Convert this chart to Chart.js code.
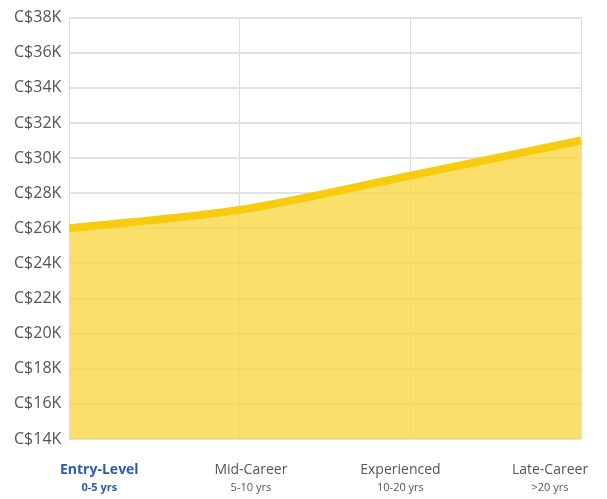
<!DOCTYPE html>
<html><head><meta charset="utf-8">
<script src="https://cdn.jsdelivr.net/npm/chart.js@4"></script>
<style>html,body{margin:0;padding:0;background:#fff}#w{width:607px;height:499px}</style>
</head><body><div id="w"><canvas id="c"></canvas></div>
<script>
const categories = ["Entry-Level","Mid-Career","Experienced","Late-Career"];
const subLabels = ["0-5 yrs","5-10 yrs","10-20 yrs",">20 yrs"];
const salaries = [26000, 27050, 29000, 31000];
const yMin = 14000, yMax = 38000, yStep = 2000;

const labelPlugin = {
  id: 'xlabels',
  afterDraw(chart) {
    const ctx = chart.ctx, xs = chart.scales.x, b = chart.chartArea.bottom;
    const shift = [30, 11, -10, -31];
    ctx.save(); ctx.textAlign = 'center'; ctx.textBaseline = 'alphabetic';
    categories.forEach((c, i) => {
      const x = xs.getPixelForValue(i) + shift[i];
      const first = i === 0;
      ctx.fillStyle = first ? '#2a5caa' : '#555';
      ctx.font = (first ? 'bold ' : '') + '14px "Open Sans"';
      ctx.fillText(c, x, b + 35);
      ctx.font = (first ? 'bold ' : '') + '11px "Open Sans"';
      ctx.fillText(subLabels[i], x, b + 52);
    });
    ctx.restore();
  }
};

new Chart(document.getElementById('c'), {
  type: 'line',
  data: { labels: categories, datasets: [{
    data: salaries, borderColor: '#f7cc0e', borderWidth: 8,
    backgroundColor: 'rgba(249,216,69,0.8)', fill: 'origin',
    tension: 0.3, pointRadius: 0
  }]},
  options: {
    responsive: true, maintainAspectRatio: false, animation: false,
    layout: { padding: { top: 17, right: 26, bottom: 60, left: 6 } },
    plugins: { legend: { display: false }, tooltip: { enabled: false } },
    scales: {
      x: { ticks: { display: false }, grid: { color: '#dcdcdc', drawTicks: false }, border: { display: false } },
      y: { min: yMin, max: yMax,
        ticks: { stepSize: yStep, color: '#555', font: { family: 'Open Sans', size: 16 }, padding: 8,
          callback: v => 'C$' + (v / 1000) + 'K' },
        grid: { color: '#e2e2e2', drawTicks: false, lineWidth: 2 }, border: { display: false } }
    }
  },
  plugins: [labelPlugin]
});
</script></body></html>
